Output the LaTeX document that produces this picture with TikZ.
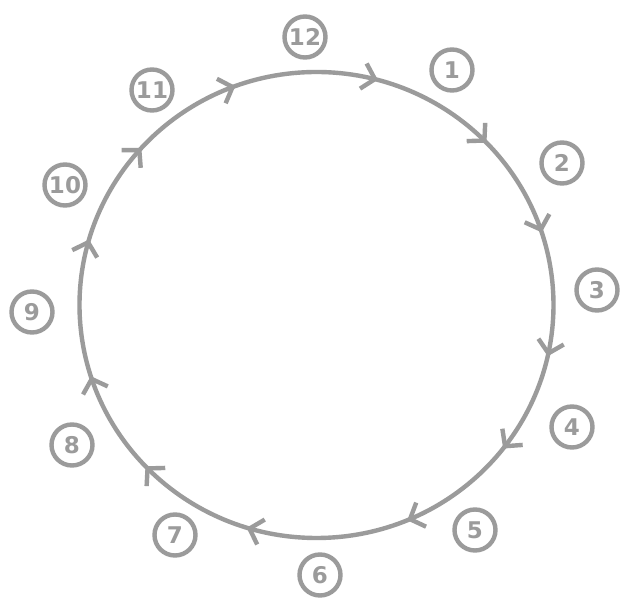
\documentclass[tikz,border=0pt]{standalone}
\usepackage{fontspec}
\newfontfamily\lblfont{DejaVu Sans}
\usetikzlibrary{decorations.markings,arrows.meta}
\definecolor{linegray}{RGB}{155,155,155}
\newcommand{\flowtip}{\arrowreversed{Straight Barb[length=6pt,width=13pt]}}
\begin{document}
\begin{tikzpicture}[x=0.5pt,y=0.5pt,
  lbl/.style={circle,draw=linegray,line width=2.2pt,minimum size=20.5pt,inner sep=0pt,
    text=linegray,font=\lblfont\bfseries\fontsize{11.5}{13}\selectfont},
  flow/.style={draw=linegray,line width=2.2pt,postaction={decorate},
    decoration={markings,
      mark=at position 0.050 with {\flowtip},
      mark=at position 0.122 with {\flowtip},
      mark=at position 0.208 with {\flowtip},
      mark=at position 0.306 with {\flowtip},
      mark=at position 0.383 with {\flowtip},
      mark=at position 0.455 with {\flowtip},
      mark=at position 0.549 with {\flowtip},
      mark=at position 0.621 with {\flowtip},
      mark=at position 0.702 with {\flowtip},
      mark=at position 0.813 with {\flowtip},
      mark=at position 0.895 with {\flowtip},
      mark=at position 0.965 with {\flowtip}}}]
\useasboundingbox (0,0) rectangle (629,600);
\fill[white] (0,0) rectangle (629,600);
\coordinate (c) at (316.5,295);
\draw[flow] (c) ellipse [x radius=237, y radius=233];
\node[lbl] (n12) at (305,563) {12};
\node[lbl] (n1) at (452,530) {1};
\node[lbl] (n2) at (562,437) {2};
\node[lbl] (n3) at (597,310) {3};
\node[lbl] (n4) at (572,173) {4};
\node[lbl] (n5) at (475,70) {5};
\node[lbl] (n6) at (320,25) {6};
\node[lbl] (n7) at (175,65) {7};
\node[lbl] (n8) at (72,155) {8};
\node[lbl] (n9) at (32,288) {9};
\node[lbl] (n10) at (65,415) {10};
\node[lbl] (n11) at (152,510) {11};
\end{tikzpicture}
\end{document}
